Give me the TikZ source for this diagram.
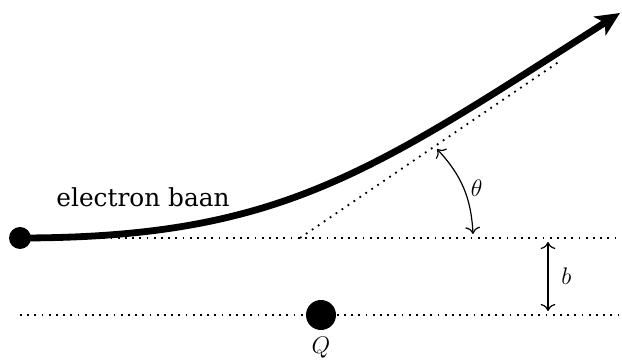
\documentclass[tikz,border=0pt]{standalone}
\usepackage{fontspec}
\setmainfont{DejaVu Serif}
\usetikzlibrary{arrows.meta,positioning}

\begin{document}
\begin{tikzpicture}[
  x=0.5pt, y=0.5pt,
  font=\fontsize{12.4}{15}\selectfont,
  dot/.style={circle, fill=black, inner sep=0pt},
  dotline/.style={line width=0.9pt, dash pattern=on 0.9pt off 2.7pt},
  dim/.style={{To[length=3.5pt]}-{To[length=3.5pt]}, line width=0.6pt},
  path/.style={line width=3.4pt, -{Stealth[length=12pt, width=11pt, inset=3pt]}}
]
  \useasboundingbox (0,0) rectangle (622,363);
  \node[dot, minimum size=11pt] (e) at (20,125) {};
  \node[dot, minimum size=15pt] (q) at (321,48) {};
  \node[below=0pt of q] (qlab) {$Q$};
  \coordinate (o) at (300,125);
  \coordinate (a) at (560,302);
  \coordinate (tip) at (620,350);
  \coordinate (r1) at (622,125);
  \coordinate (l2) at (20,48);
  \coordinate (r2) at (622,48);
  % reference lines and asymptote
  \draw[dotline] (e) -- (r1);
  \draw[dotline] (l2) -- (r2);
  \draw[dotline] (o) -- (a);
  % electron path
  \draw[path] (e.center) .. controls (280,125) and (370,190) .. (tip);
  \node (lab) at (143,166) {electron baan};
  % angle
  \coordinate (th1) at (473,129);
  \coordinate (th2) at (437,214);
  \draw[dim] (th1) to[bend right=20] node[right=0pt] {$\theta$} (th2);
  % impact parameter
  \coordinate (b1) at (548,121);
  \coordinate (b2) at (548,52);
  \draw[dim] (b1) -- node[right=3pt] {$b$} (b2);
\end{tikzpicture}
\end{document}
